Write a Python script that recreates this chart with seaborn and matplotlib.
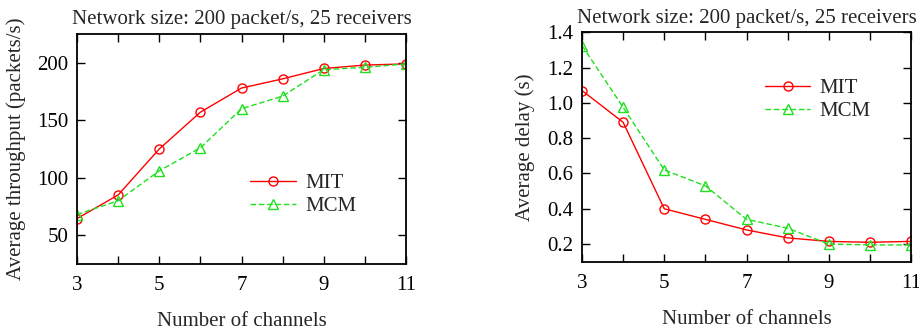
import numpy as np
import pandas as pd
import matplotlib
matplotlib.use("Agg")
import matplotlib.pyplot as plt
import seaborn as sns

channels = [3, 4, 5, 6, 7, 8, 9, 10, 11]
series_names = ["MIT", "MCM"]
thr_mit = [64.5, 85, 125, 157, 178, 186, 195, 198, 199]
thr_mcm = [68, 80, 106, 126, 160, 171, 194, 196, 199]
delay_mit = [1.07, 0.89, 0.40, 0.34, 0.28, 0.235, 0.215, 0.21, 0.215]
delay_mcm = [1.325, 0.975, 0.62, 0.53, 0.34, 0.29, 0.20, 0.195, 0.195]
title_text = "Network size: 200 packet/s, 25 receivers"
xlabel_text = "Number of channels"
ylabel_left = "Average throughput (packets/s)"
ylabel_right = "Average delay (s)"

sns.set_theme(style="ticks")
plt.rcParams["font.family"] = ["Liberation Serif", "DejaVu Serif"]
plt.rcParams["mathtext.fontset"] = "stix"

def long_df(a, b):
    return pd.DataFrame({
        "x": channels * 2,
        "y": list(a) + list(b),
        "method": ["MIT"] * len(channels) + ["MCM"] * len(channels),
    })

palette = {"MIT": "#ff0000", "MCM": "#1ee01e"}
markers = {"MIT": "o", "MCM": "^"}
dashes = {"MIT": "", "MCM": (4, 2)}

fig = plt.figure(figsize=(9.19, 3.31), dpi=100)
W, H = 919, 331
def add_ax(l, r, t, b):
    return fig.add_axes([l / W, 1 - b / H, (r - l) / W, (b - t) / H])

ax1 = add_ax(77, 406, 34, 264)
ax2 = add_ax(582, 911, 32.3, 261.7)

fs = 15
for ax, (a, b), ylim, yticks, ylab, lpad, leg_xy in [
    (ax1, (thr_mit, thr_mcm), (25, 225), [50, 100, 150, 200], ylabel_left, 8, (0.526, 0.30)),
    (ax2, (delay_mit, delay_mcm), (0.1, 1.4), [0.2, 0.4, 0.6, 0.8, 1.0, 1.2, 1.4], ylabel_right, 9, (0.555, 0.705)),
]:
    df = long_df(a, b)
    sns.lineplot(data=df, x="x", y="y", hue="method", style="method",
                 hue_order=series_names, style_order=series_names,
                 palette=palette, markers=markers, dashes=dashes,
                 linewidth=1.0, markersize=6.5, legend=False, ax=ax)
    for line in ax.lines:
        c = line.get_color()
        line.set_markeredgecolor(c)
        line.set_markerfacecolor("none")
        line.set_markeredgewidth(1.0)
    ax.set_xlim(3, 11)
    ax.set_ylim(*ylim)
    ax.set_xticks(channels)
    ax.set_xticklabels([str(c) if c % 2 == 1 else "" for c in channels])
    ax.set_yticks(yticks)
    if ax is ax2:
        ax.set_yticklabels([f"{v:.1f}" for v in yticks])
    ax.tick_params(direction="in", top=True, right=True, length=6, width=1.0,
                   labelsize=fs, colors="black")
    ax.tick_params(axis="x", pad=9)
    ax.tick_params(axis="y", pad=6)
    ax.set_frame_on(True)
    for s in ax.spines.values():
        s.set_visible(True)
        s.set_linewidth(1.3)
        s.set_color("black")
    ax.set_xlabel(xlabel_text, fontsize=fs, labelpad=12)
    ax.set_ylabel(ylab, fontsize=fs, labelpad=lpad)
    ax.set_title(title_text, fontsize=fs, pad=7)
    ax.legend(handles=list(ax.lines), labels=series_names, loc="center left",
              bbox_to_anchor=leg_xy, frameon=False, fontsize=fs,
              borderpad=0, borderaxespad=0, handlelength=2.2,
              handletextpad=0.45, labelspacing=0.15)

fig.savefig("out.png", dpi=100)
